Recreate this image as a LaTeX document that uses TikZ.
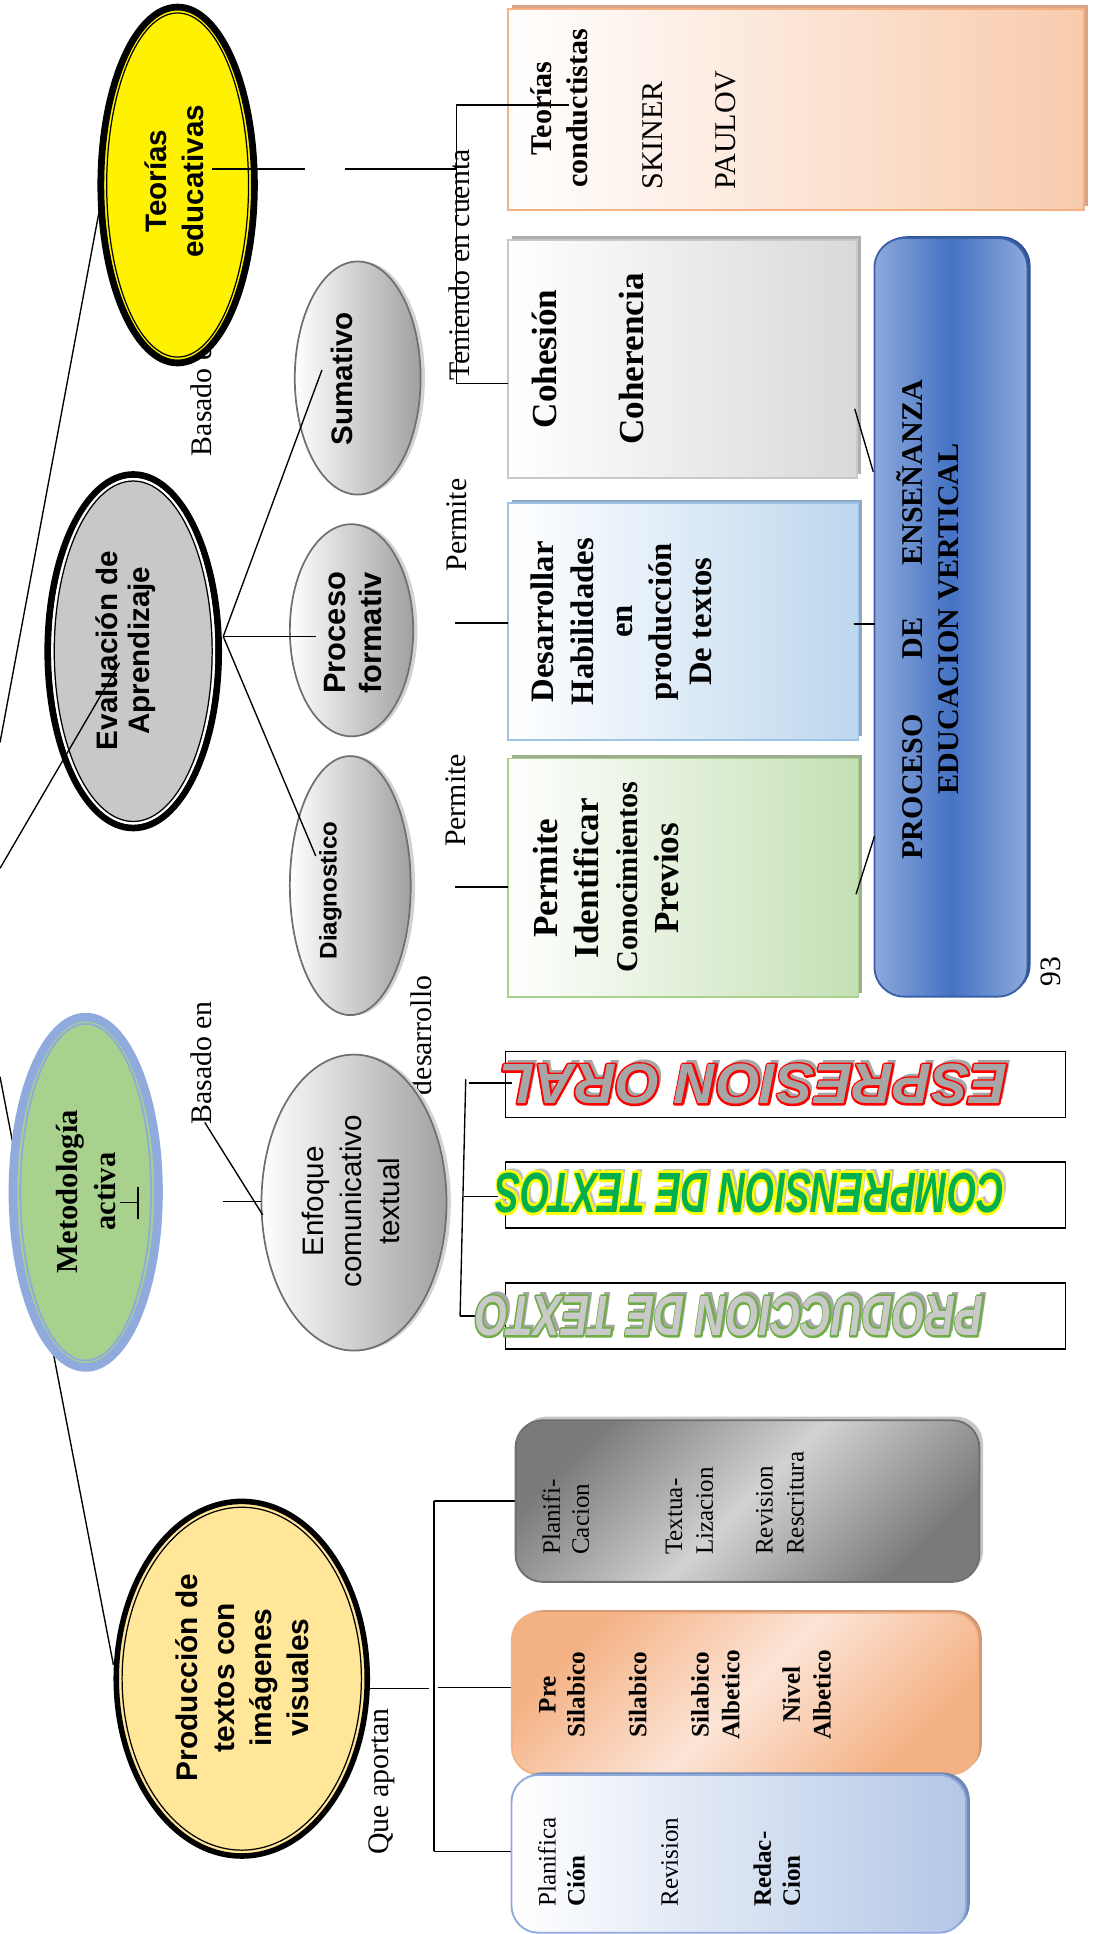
\documentclass[tikz,border=0pt]{standalone}
\usepackage{fontspec}
\setmainfont{Liberation Serif}
\newfontfamily\arialf{Liberation Sans}
\usetikzlibrary{shapes.geometric,shadows}
\newcommand\fs[1]{\fontsize{#1}{#1}\selectfont}
\definecolor{peachB}{HTML}{F4B183}
\definecolor{peachF}{HTML}{F8CBAD}
\definecolor{peachS}{HTML}{D8A488}
\definecolor{greyB}{HTML}{C9C9C9}
\definecolor{greyF}{HTML}{D9D9D9}
\definecolor{greyS}{HTML}{AFAFAF}
\definecolor{lbB}{HTML}{9DC3E6}
\definecolor{lbF}{HTML}{BDD7EE}
\definecolor{lbS}{HTML}{8FA9C4}
\definecolor{lgB}{HTML}{A9D18E}
\definecolor{lgF}{HTML}{C5E0B4}
\definecolor{lgS}{HTML}{9CAE90}
\definecolor{blueL}{HTML}{8EA9DB}
\definecolor{blueM}{HTML}{4472C4}
\definecolor{blueD}{HTML}{2F5597}
\definecolor{evalF}{HTML}{C8C8C8}
\definecolor{metF}{HTML}{A9D18E}
\definecolor{metB}{HTML}{8FAADC}
\definecolor{prodF}{HTML}{FFE699}
\definecolor{ellB}{HTML}{6F6F6F}
\definecolor{ellR}{HTML}{A0A0A0}
\definecolor{orgD}{HTML}{F4B183}
\definecolor{orgL}{HTML}{FCE4D6}
\definecolor{orgS}{HTML}{D09A78}
\definecolor{gryD}{HTML}{7A7A7A}
\definecolor{gryL}{HTML}{D2D2D2}
\definecolor{bbB}{HTML}{8FAADC}
\definecolor{bbF}{HTML}{B4C7E7}
\definecolor{wgreen}{HTML}{00B050}
\definecolor{wlgrey}{HTML}{C9C9C9}
\definecolor{wmgrey}{HTML}{A6A6A6}
\definecolor{wgo}{HTML}{70AD47}
% #1 coordinate, #2 text, #3 fill colour, #4 stroke rgb, #5 shadow colour, #6 xscale, #7 stroke width
\newcommand\wordart[7]{%
  \node[wa, text=#5, xscale=#6] at ([shift={(3.3,-3.3)}]#1) {#2};
  \node[wa, text=#3, xscale=#6] at (#1) {\special{pdf:literal direct 2 Tr #7 w 1 j #4 RG}#2\special{pdf:literal direct 0 Tr 0 j}};
  \node[wa, text=#3, xscale=#6] at (#1) {#2};}
\begin{document}
\begin{tikzpicture}[x=1pt,y=-1pt,
  txt/.style={inner sep=0pt, rotate=90, anchor=base},
  trr/.style={txt, font={\fs{#1}}},
  tb/.style={txt, font={\bfseries\fs{#1}}},
  ab/.style={txt, font={\arialf\bfseries\fs{#1}}},
  ar/.style={txt, font={\arialf\fs{#1}}},
  wa/.style={inner sep=0pt, rotate=180, font={\arialf\bfseries\itshape\fs{46}}},
  conn/.style={draw=black, line width=1.1pt},
  rbox/.style={rectangle, inner sep=0pt, line width=1.5pt},
  gell/.style={ellipse, inner sep=0pt, draw=ellB, line width=1.4pt, left color=white, right color=ellR,
     drop shadow={shadow xshift=3.5pt, shadow yshift=0pt, fill=gray!35, opacity=1}},
  banner/.style={rectangle, inner sep=0pt, draw=black, line width=1.2pt, fill=white, minimum width=454, minimum height=53.5}
]
\useasboundingbox (0,0) rectangle (891,1568);
\fill[white] (0,0) rectangle (891,1568);

% ---------- coordinates of connector ends
\coordinate (r1) at (0,602);   \coordinate (te1) at (81,168);
\coordinate (r2) at (0,704);   \coordinate (ev1) at (97,537.5);
\coordinate (r3) at (0,873);   \coordinate (pr1) at (92,1350);
\coordinate (ta) at (172,137); \coordinate (tb) at (247,137);
\coordinate (tc) at (280,137); \coordinate (td) at (370,137);
\coordinate (tv1) at (370,85); \coordinate (tv2) at (370,311);
\coordinate (tx1) at (461,85); \coordinate (tx2) at (412,311);
\coordinate (eh) at (181,516);
\coordinate (su1) at (261,300); \coordinate (pf1) at (256,516); \coordinate (dg1) at (256,694);
\coordinate (p1a) at (369,505); \coordinate (p1b) at (412,505);
\coordinate (p2a) at (369,719); \coordinate (p2b) at (412,719);
\coordinate (b1a) at (693,331.5); \coordinate (b1b) at (708,382.5);
\coordinate (b2a) at (692,506);   \coordinate (b2b) at (709,506);
\coordinate (b3a) at (694,725);   \coordinate (b3b) at (709,678);
\coordinate (m1) at (97,975);  \coordinate (m2) at (112,975);
\coordinate (m3) at (112,962); \coordinate (m4) at (112,988);
\coordinate (m5) at (181,974); \coordinate (m6) at (212,974);
\coordinate (bd1) at (166,910); \coordinate (bd2) at (213,985);
\coordinate (bk1) at (377.6,875); \coordinate (bk2) at (373,1067);
\coordinate (bk3) at (380,878); \coordinate (bk4) at (415,878);
\coordinate (bk5) at (376,970); \coordinate (bk6) at (403.5,970);
\coordinate (bk7) at (385,1067);
\coordinate (q1) at (300,1369); \coordinate (q2) at (347.5,1369);
\coordinate (q3) at (352,1217); \coordinate (q4) at (352,1501);
\coordinate (q5) at (418,1217); \coordinate (q6) at (355,1368);
\coordinate (q7) at (415,1368); \coordinate (q8) at (415,1501);

% ---------- root lines
\draw[conn] (r1) -- (te1);
\draw[conn] (r3) -- (pr1);

% ---------- Teorias educativas
\node[trr=24.2, anchor=base west] (basado1) at (171.5,370) {Basado en};
\node[ellipse, inner sep=0pt, minimum width=124.5, minimum height=288.5, fill=yellow, draw=black, line width=5.5pt] (teo) at (144,150) {};
\draw[line width=1pt] (teo.center) ellipse [x radius=57.5pt, y radius=139.5pt];
\node[ab=24] at (135,147) {Teorías};
\node[ab=24] at (165,147) {educativas};
\draw[conn] (ta) -- (tb);
\draw[conn] (tc) -- (td);

% ---------- Evaluacion
\node[ellipse, inner sep=0pt, minimum width=138.5, minimum height=286.5, fill=evalF, draw=black, line width=5.5pt] (eva) at (108,528) {};
\draw[white, line width=2pt] (eva.center) ellipse [x radius=65.5pt, y radius=139.5pt];
\draw[line width=1pt] (eva.center) ellipse [x radius=64pt, y radius=138pt];
\node[ab=24] at (95,527.5) {Evaluación de};
\node[ab=24] at (121,527.5) {Aprendizaje};
\draw[conn] (r2) -- (ev1);

% ---------- grey ellipses
\node[gell, minimum width=102, minimum height=189] (sum) at (290,306.5) {};
\node[ab=24] at (286,307) {Sumativo};
\node[gell, minimum width=100, minimum height=172] (pro) at (285,511) {};
\node[ab=25] at (280.5,513) {Proceso};
\node[ab=25] at (309.5,513) {formativ};
\node[gell, minimum width=98, minimum height=210] (dia) at (284,718) {};
\node[ab=19.5] at (273,722) {Diagnostico};
\draw[conn] (eh) -- (su1);
\draw[conn] (eh) -- (pf1);
\draw[conn] (eh) -- (dg1);

% ---------- labels
\node[trr=24.2] at (381,215) {Teniendo en cuenta};
\node[trr=24.2] at (378,425.6) {Permite};
\node[trr=24.2] at (377,649) {Permite};
\node[trr=24.2, anchor=base west] (basado2) at (171.5,912) {Basado en};
\node[trr=24.2, anchor=base west] at (350,888) {desarrollo};
\node[trr=24.2, anchor=base west] at (315,1504) {Que aportan};
\node[trr=24] at (860,788) {93};

% ---------- Teorias conductistas box
\node[rbox, minimum width=467, minimum height=163, draw=peachB, left color=white, right color=peachF,
  drop shadow={shadow xshift=3pt, shadow yshift=3pt, fill=peachS, opacity=1}] (tcbox) at (645.5,88.5) {};
\node[tb=24.4] at (447,88) {Teorías};
\node[tb=24.4] at (476.5,88) {conductistas};
\node[trr=24.4, anchor=base west] at (537,154) {SKINER};
\node[trr=24.4, anchor=base west] at (596,154) {PAULOV};

% ---------- Cohesion box
\node[rbox, minimum width=283, minimum height=193, draw=greyB, left color=white, right color=greyF,
  drop shadow={shadow xshift=3pt, shadow yshift=3pt, fill=greyS, opacity=1}] (cobox) at (553.5,291) {};
\node[tb=28.5] at (451.5,291) {Cohesión};
\node[tb=28.5] at (521.5,291) {Coherencia};

% ---------- Desarrollar box
\node[rbox, minimum width=284, minimum height=192, draw=lbB, left color=white, right color=lbF,
  drop shadow={shadow xshift=3pt, shadow yshift=3pt, fill=lbS, opacity=1}] (debox) at (554,504) {};
\node[tb=26.5] at (448.5,504) {Desarrollar};
\node[tb=26.5] at (481,504) {Habilidades};
\node[tb=26.5] at (512.5,504) {en};
\node[tb=26.5] at (544.5,504) {producción};
\node[tb=26.5] at (577,504) {De textos};

% ---------- Permite Identificar box
\node[rbox, minimum width=284, minimum height=193, draw=lgB, left color=white, right color=lgF,
  drop shadow={shadow xshift=3pt, shadow yshift=3pt, fill=lgS, opacity=1}] (pibox) at (554,711.5) {};
\node[tb=28.5] at (452,712) {Permite};
\node[tb=28.5] at (485.5,712) {Identificar};
\node[tb=24.5] at (517,711) {Conocimientos};
\node[tb=28.5] at (550,712) {Previos};

% ---------- Teorias connectors
\draw[conn] (tv1) -- (tv2);
\draw[conn] (tv1) -- (tx1);
\draw[conn] (tv2) -- (tx2);
\draw[conn] (p1a) -- (p1b);
\draw[conn] (p2a) -- (p2b);

% ---------- blue PROCESO box
\node[rbox, rounded corners=24pt, minimum width=124, minimum height=615, draw=blueM!85!black,
  left color=blueL, right color=blueL, middle color=blueM,
  drop shadow={shadow xshift=2.5pt, shadow yshift=1.5pt, fill=blueD, opacity=1}] (blbox) at (771,500.5) {};
\node[tb=24.4, anchor=base west] at (748,697) {PROCESO};
\node[tb=24.4] at (748,517.5) {DE};
\node[tb=24.4, anchor=base east] at (748,308) {ENSEÑANZA};
\node[tb=24.4, anchor=base west] at (777.5,644) {EDUCACION VERTICAL};
\draw[conn] (b1a) -- (b1b);
\draw[conn] (b2a) -- (b2b);
\draw[conn] (b3a) -- (b3b);

% ---------- Metodologia activa
\node[ellipse, inner sep=0pt, minimum width=118, minimum height=284, fill=metF, draw=metB, line width=7pt] (met) at (69.5,966.6) {};
\draw[metB, line width=1.5pt] (met.center) ellipse [x radius=53pt, y radius=136.5pt];
\node[tb=24.8] at (63,966) {Metodología};
\node[tb=24.8] at (94,966) {activa};
\draw[conn] (m1) -- (m2);
\draw[conn] (m3) -- (m4);

% ---------- Enfoque
\node[gell, minimum width=150, minimum height=240] (enf) at (287,975) {};
\node[ar=24] at (262,974) {Enfoque};
\node[ar=24] at (293,974) {comunicativo};
\node[ar=24] at (324,974) {textual};
\draw[conn] (m5) -- (m6);
\draw[conn] (bd1) -- (bd2);

% ---------- banners
\node[banner] (espbox) at (637,879.4) {};
\node[banner] (compbox) at (637,969) {};
\node[banner] (prodbox) at (637,1067) {};
\draw[conn] (bk1) -- (bk2);
\draw[conn] (bk3) -- (bk4);
\draw[conn] (bk5) -- (bk6);
\draw[conn] (bk2) -- (bk7);
\coordinate (espt) at (610.7,879);
\coordinate (compt) at (608,967);
\coordinate (prodt) at (591.5,1067);
\wordart{espt}{ESPRESION ORAL}{wmgrey}{1 0 0}{wmgrey}{1.0}{3.2}
\wordart{compt}{COMPRENSION DE TEXTOS}{wgreen}{1 1 0}{wmgrey!70}{0.665}{4.4}
\wordart{prodt}{PRODUCCION DE TEXTO}{wlgrey}{0.439 0.678 0.278}{wmgrey}{0.741}{3.4}

% ---------- Produccion ellipse
\node[ellipse, inner sep=0pt, minimum width=203.5, minimum height=287.5, fill=prodF, draw=black, line width=4.5pt] (prd) at (196,1361) {};
\draw[line width=1pt] (prd.center) ellipse [x radius=97pt, y radius=139pt];
\node[ab=24.2] at (160,1360) {Producción de};
\node[ab=24.2] at (190,1360) {textos con};
\node[ab=24.2] at (220,1360) {imágenes};
\node[ab=24.2] at (250,1360) {visuales};
\draw[conn] (q1) -- (q2);
\draw[conn] (q3) -- (q4);
\draw[conn] (q3) -- (q5);
\draw[conn] (q6) -- (q7);
\draw[conn] (q4) -- (q8);

% ---------- bottom boxes
\node[rbox, rounded corners=22pt, minimum width=376, minimum height=131, draw=ellB,
  top color=gryD, bottom color=gryD, middle color=gryL, shading angle=45,
  drop shadow={shadow xshift=3pt, shadow yshift=3pt, fill=gray!45, opacity=1}] (plbox) at (606,1217) {};
\node[trr=20.3, anchor=base west] at (454,1260.7) {Planifi-};
\node[trr=20.3, anchor=base west] at (477.5,1260.7) {Cacion};
\node[trr=20.3, anchor=base west] at (553,1260.7) {Textua-};
\node[trr=20.3, anchor=base west] at (578,1260.7) {Lizacion};
\node[trr=20.3, anchor=base west] at (626.5,1260.7) {Revision};
\node[trr=20.3, anchor=base west] at (651.5,1260.7) {Rescritura};

\node[rbox, rounded corners=22pt, minimum width=378, minimum height=131, draw=orgD,
  top color=orgD, bottom color=orgD, middle color=orgL, shading angle=45,
  drop shadow={shadow xshift=3pt, shadow yshift=2pt, fill=orgS, opacity=1}] (sibox) at (604,1373) {};
\node[tb=20.4] at (450.5,1374) {Pre};
\node[tb=20.4] at (474,1374) {Silabico};
\node[tb=20.4] at (524,1374) {Silabico};
\node[tb=20.4] at (574.5,1374) {Silabico};
\node[tb=20.4] at (599.5,1374) {Albetico};
\node[tb=20.4] at (648.5,1374) {Nivel};
\node[tb=20.4] at (673.5,1374) {Albetico};

\node[rbox, rounded corners=22pt, minimum width=368.6, minimum height=128, draw=bbB,
  left color=white, right color=bbF,
  drop shadow={shadow xshift=3pt, shadow yshift=2pt, fill=bbB!80!black, opacity=1}] (rebox) at (599,1503) {};
\node[trr=20.3, anchor=base west] at (450.5,1546) {Planifica};
\node[tb=20.3, anchor=base west] at (474,1546) {Ción};
\node[trr=20.3, anchor=base west] at (549.5,1546) {Revision};
\node[tb=20.3, anchor=base west] at (625,1546) {Redac-};
\node[tb=20.3, anchor=base west] at (648.5,1546) {Cion};
\end{tikzpicture}
\end{document}
